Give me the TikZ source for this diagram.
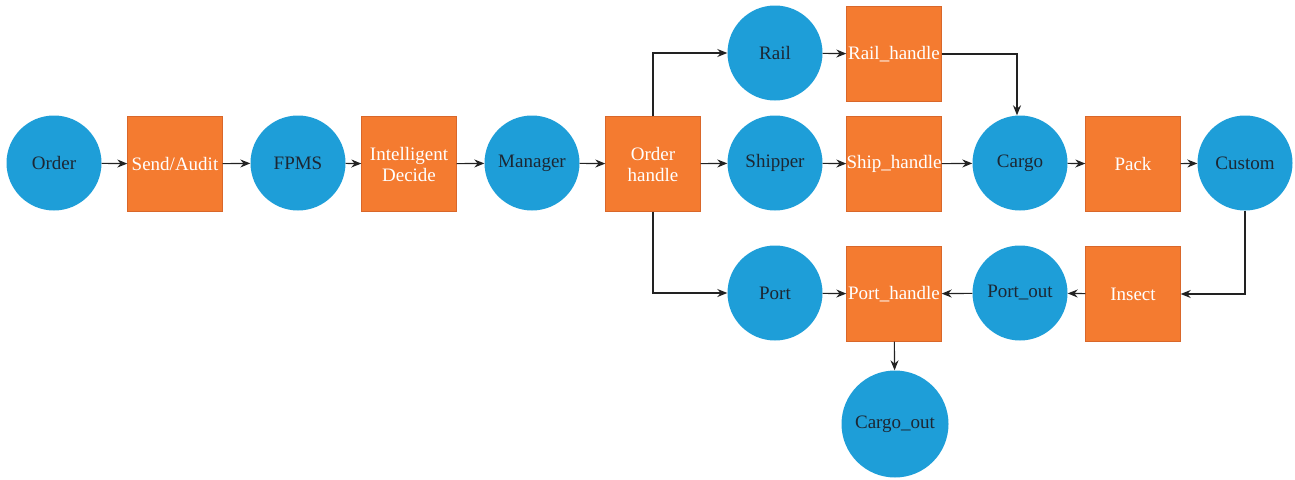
\documentclass[tikz,border=0pt]{standalone}
\usepackage{fontspec}
\setmainfont{Liberation Serif}
\usetikzlibrary{arrows.meta}

\definecolor{nodeblue}{HTML}{1E9ED8}
\definecolor{boxorange}{HTML}{F47B30}
\definecolor{boxedge}{HTML}{D9672A}
\definecolor{darktext}{HTML}{1C2733}
\definecolor{linegray}{HTML}{222222}

\begin{document}
\begin{tikzpicture}[x=1pt,y=-1pt,font=\fontsize{19}{21}\selectfont]

      \useasboundingbox (0,0) rectangle (1295,479);

      \begin{scope}[every node/.style={circle,fill=nodeblue,text=darktext,minimum size=95pt,inner sep=0pt}]
        \node (order)    at (54,163)   {Order};
        \node (fpms)     at (298,163)  {FPMS};
        \node (manager)  at (532,163)  {Manager};
        \node (rail)     at (775,53)   {Rail};
        \node (shipper)  at (775,163)  {Shipper};
        \node (port)     at (775,293)  {Port};
        \node (cargo)    at (1020,163) {Cargo};
        \node (custom)   at (1245,163) {Custom};
        \node (portout)  at (1020,293) {Port\_out};
        \node[minimum size=107pt] (cargoout) at (895,424) {Cargo\_out};
      \end{scope}

      \begin{scope}[every node/.style={rectangle,draw=boxedge,fill=boxorange,text=white,minimum size=95pt,inner sep=0pt,align=center}]
        \node (send)     at (175,164)  {Send/Audit};
        \node (decide)   at (409,164)  {Intelligent\\Decide};
        \node (ohandle)  at (653,164)  {Order\\handle};
        \node (railh)    at (894,54)   {Rail\_handle};
        \node (shiph)    at (894,164)  {Ship\_handle};
        \node (porth)    at (894,294)  {Port\_handle};
        \node (pack)     at (1133,164) {Pack};
        \node (insect)   at (1133,294) {Insect};
      \end{scope}

      \begin{scope}[every edge/.style={draw,linegray,line width=1.1pt,-{Stealth[length=10pt,width=8pt]}}]
        \path (order)   edge (send);
        \path (send)    edge (fpms);
        \path (fpms)    edge (decide);
        \path (decide)  edge (manager);
        \path (manager) edge (ohandle);
        \path (ohandle) edge (shipper);
        \path (rail)    edge (railh);
        \path (shipper) edge (shiph);
        \path (port)    edge (porth);
        \path (shiph)   edge (cargo);
        \path (cargo)   edge (pack);
        \path (pack)    edge (custom);
        \path (insect)  edge (portout);
        \path (portout) edge (porth);
        \path (porth)   edge (cargoout);
      \end{scope}

      \begin{scope}[linegray,line width=1.1pt,-{Stealth[length=10pt,width=8pt]}]
        \draw (ohandle.north) |- (rail.west);
        \draw (ohandle.south) |- (port.west);
        \draw (railh.east) -| ([xshift=-3pt]cargo.north);
        \draw (custom.south) |- (insect.east);
      \end{scope}

    \end{tikzpicture}
\end{document}
